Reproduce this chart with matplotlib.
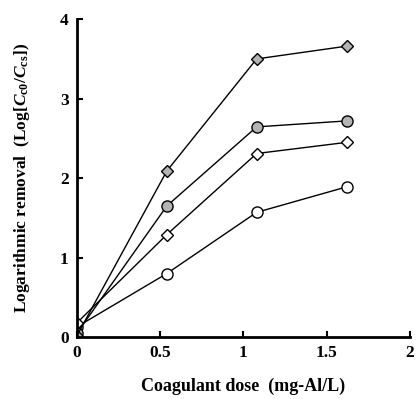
import numpy as np
import matplotlib.pyplot as plt

dose = [0, 0.54, 1.08, 1.62]
gray_diamond = [0.02, 2.09, 3.50, 3.66]
gray_circle = [0.05, 1.65, 2.645, 2.72]
white_diamond = [0.18, 1.29, 2.31, 2.45]
white_circle = [0.13, 0.80, 1.57, 1.89]

xticks = [0, 0.5, 1, 1.5, 2]
xticklabels = ['0', '0.5', '1', '1.5', '2']
yticks = [0, 1, 2, 3, 4]

plt.rcParams['font.family'] = 'Liberation Serif'
plt.rcParams['font.weight'] = 'bold'
plt.rcParams['mathtext.fontset'] = 'custom'
plt.rcParams['mathtext.rm'] = 'Liberation Serif:bold'
plt.rcParams['mathtext.it'] = 'Liberation Serif:italic:bold'
plt.rcParams['mathtext.bf'] = 'Liberation Serif:bold'

fig = plt.figure(figsize=(4.16, 3.99), dpi=100)
ax = fig.add_axes([0.185, 0.155, 0.80, 0.797])

ax.plot(dose, white_circle, '-o', color='black', lw=1, markersize=8,
        markerfacecolor='white', markeredgecolor='black', markeredgewidth=1)
ax.plot(dose, white_diamond, '-D', color='black', lw=1, markersize=6,
        markerfacecolor='white', markeredgecolor='black', markeredgewidth=1)
ax.plot(dose, gray_circle, '-o', color='black', lw=1, markersize=8,
        markerfacecolor='#b4b4b4', markeredgecolor='black', markeredgewidth=1)
ax.plot(dose, gray_diamond, '-D', color='black', lw=1, markersize=6,
        markerfacecolor='#b4b4b4', markeredgecolor='black', markeredgewidth=1)

ax.set_xlim(0, 2)
ax.set_ylim(0, 4)
ax.set_xticks(xticks)
ax.set_xticklabels(xticklabels)
ax.set_yticks(yticks)
ax.spines['top'].set_visible(False)
ax.spines['right'].set_visible(False)
ax.spines['left'].set_linewidth(2)
ax.spines['bottom'].set_linewidth(2)
ax.tick_params(direction='in', length=4, width=1.5, labelsize=12.5, pad=6)
for lab in ax.get_xticklabels() + ax.get_yticklabels():
    lab.set_fontweight('bold')

ax.set_xlabel('Coagulant dose  (mg-Al/L)', fontsize=13, fontweight='bold', labelpad=12)
ax.set_ylabel(r'Logarithmic removal  (Log[$\mathit{C}_{\mathrm{c0}}/\mathit{C}_{\mathrm{cs}}$])',
              fontsize=12.5, fontweight='bold', labelpad=20)

plt.savefig('out.png', dpi=100)
